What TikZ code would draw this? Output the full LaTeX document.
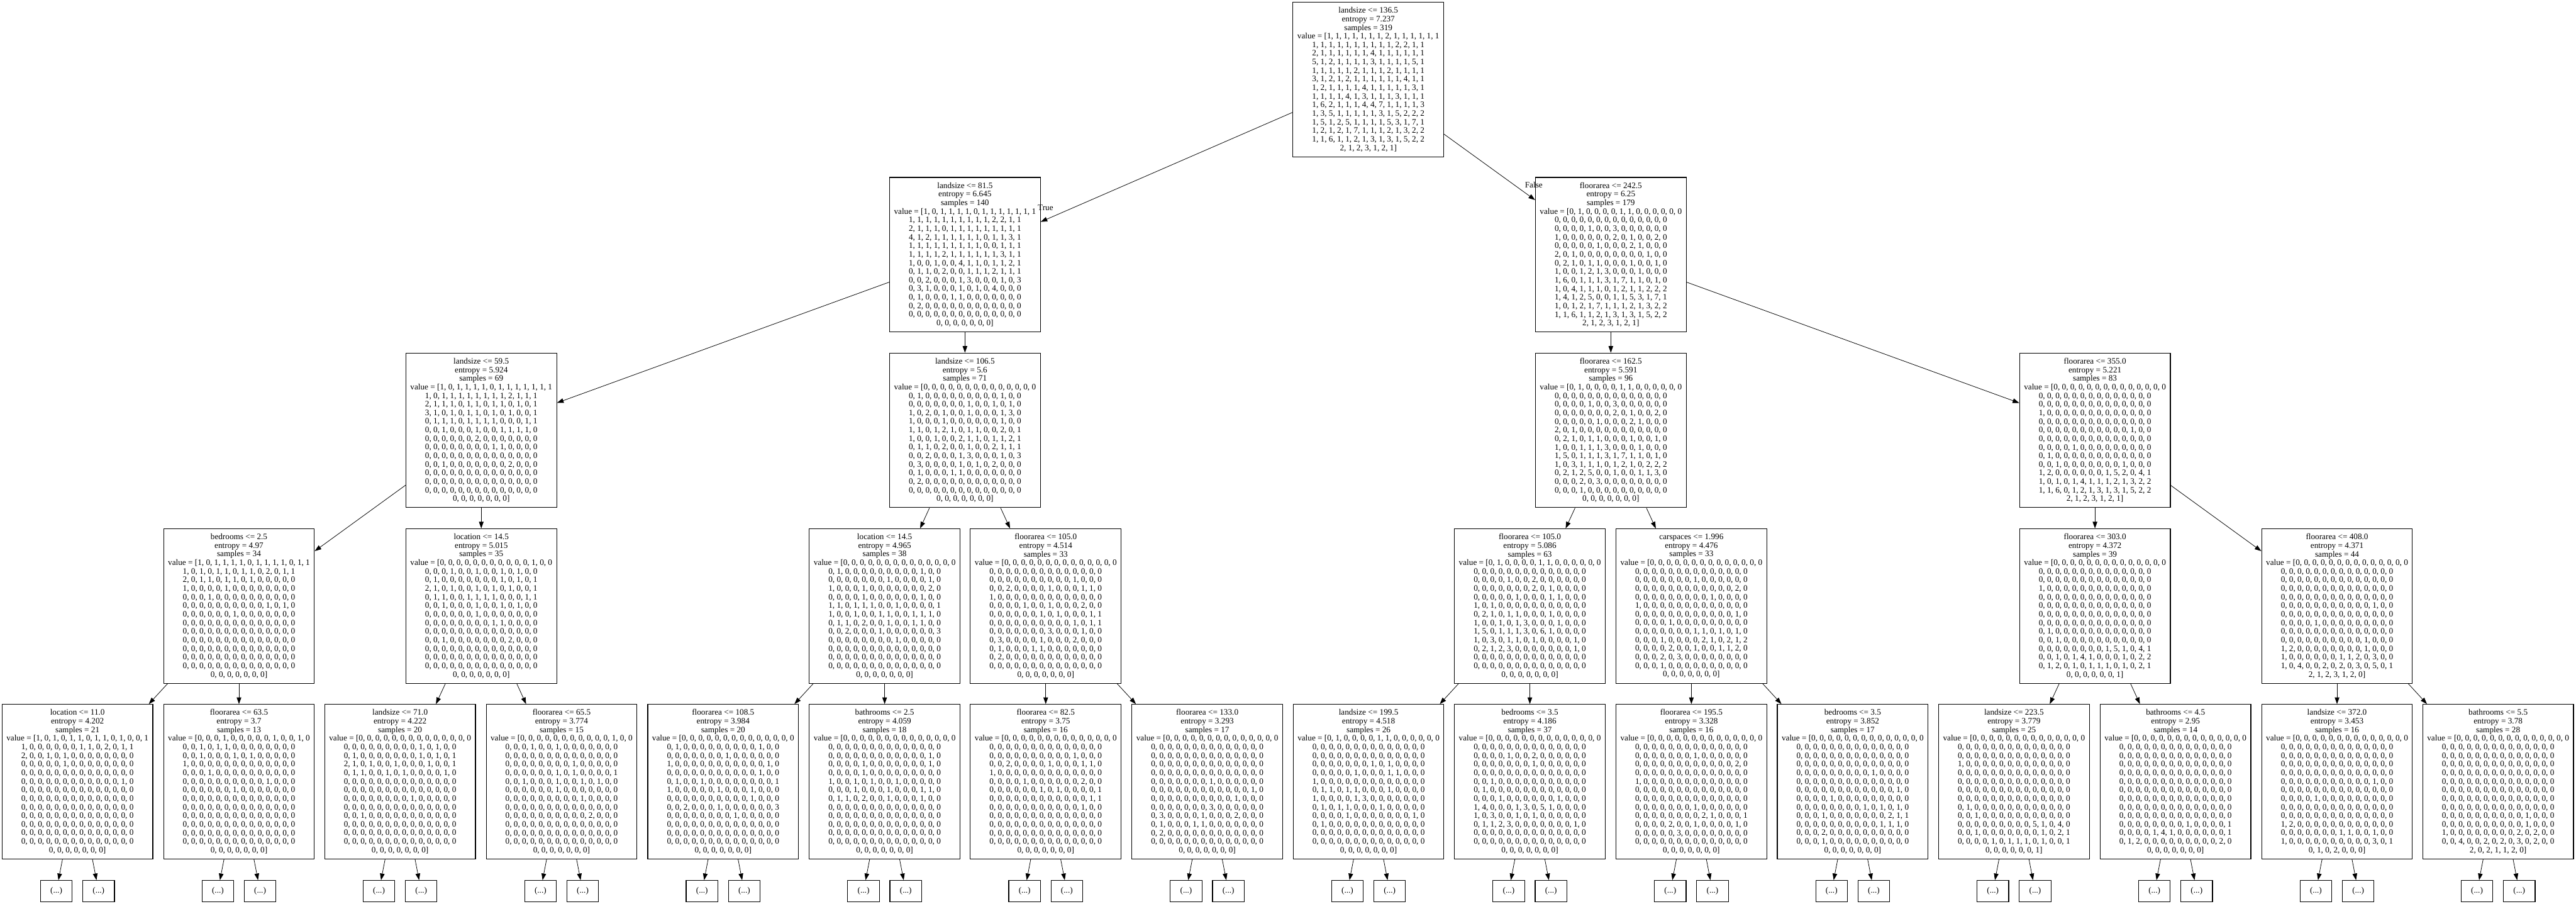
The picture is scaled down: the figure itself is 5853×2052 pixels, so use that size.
\documentclass[tikz,border=0pt]{standalone}
\usepackage{fontspec}
\setmainfont{Liberation Serif}
\usetikzlibrary{arrows.meta}

\newcommand{\nodefont}{\fontsize{3.78pt}{3.9pt}\selectfont}
\newcommand{\zerorow}{0, 0, 0, 0, 0, 0, 0, 0, 0, 0, 0, 0, 0, 0}
\newcommand{\zerohead}{value = [0, 0, 0, 0, 0, 0, 0, 0, 0, 0, 0, 0, 0, 0}
\newcommand{\zerotail}{0, 0, 0, 0, 0, 0, 0]}

\tikzset{
  treenode/.style={draw, rectangle, line width=0.32pt, minimum width=68.5pt, minimum height=70.2pt, inner sep=0pt, align=center, font=\nodefont},
  dotsbox/.style={draw, rectangle, line width=0.32pt, minimum width=14.4pt, minimum height=9.6pt, inner sep=0pt, font=\nodefont},
  edgearrow/.style={-{Triangle[length=3pt,width=2.1pt]}, line width=0.22pt},
  edgelabel/.style={anchor=base west, inner sep=0pt, font=\nodefont}
}

\begin{document}
\begin{tikzpicture}[x=0.2pt, y=-0.2pt]
\useasboundingbox (0,0) rectangle (5853,2052);

% root
\node[treenode] (r) at (3109,180.5) {landsize <= 136.5\\entropy = 7.237\\samples = 319\\value = [1, 1, 1, 1, 1, 1, 1, 2, 1, 1, 1, 1, 1, 1\\1, 1, 1, 1, 1, 1, 1, 1, 1, 1, 2, 2, 1, 1\\2, 1, 1, 1, 1, 1, 1, 4, 1, 1, 1, 1, 1, 1\\5, 1, 2, 1, 1, 1, 1, 3, 1, 1, 1, 1, 5, 1\\1, 1, 1, 1, 1, 2, 1, 1, 1, 2, 1, 1, 1, 1\\3, 1, 2, 1, 2, 1, 1, 1, 1, 1, 1, 4, 1, 1\\1, 2, 1, 1, 1, 1, 4, 1, 1, 1, 1, 1, 3, 1\\1, 1, 1, 1, 4, 1, 3, 1, 1, 1, 3, 1, 1, 1\\1, 6, 2, 1, 1, 1, 4, 4, 7, 1, 1, 1, 1, 3\\1, 3, 5, 1, 1, 1, 1, 1, 3, 1, 5, 2, 2, 2\\1, 5, 1, 2, 5, 1, 1, 1, 1, 5, 3, 1, 7, 1\\1, 2, 1, 2, 1, 7, 1, 1, 1, 2, 1, 3, 2, 2\\1, 1, 6, 1, 1, 2, 1, 3, 1, 3, 1, 5, 2, 2\\2, 1, 2, 3, 1, 2, 1]};

% depth 1
\node[treenode] (a) at (2192.5,578.5) {landsize <= 81.5\\entropy = 6.645\\samples = 140\\value = [1, 0, 1, 1, 1, 1, 0, 1, 1, 1, 1, 1, 1, 1\\1, 1, 1, 1, 1, 1, 1, 1, 1, 1, 2, 2, 1, 1\\2, 1, 1, 1, 0, 1, 1, 1, 1, 1, 1, 1, 1, 1\\4, 1, 2, 1, 1, 1, 1, 1, 1, 0, 1, 1, 3, 1\\1, 1, 1, 1, 1, 1, 1, 1, 1, 0, 0, 1, 1, 1\\1, 1, 1, 1, 2, 1, 1, 1, 1, 1, 1, 3, 1, 1\\1, 0, 0, 1, 0, 0, 4, 1, 1, 0, 1, 1, 2, 1\\0, 1, 1, 0, 2, 0, 0, 1, 1, 1, 2, 1, 1, 1\\0, 0, 2, 0, 0, 0, 1, 3, 0, 0, 0, 1, 0, 3\\0, 3, 1, 0, 0, 0, 1, 0, 1, 0, 4, 0, 0, 0\\0, 1, 0, 0, 0, 1, 1, 0, 0, 0, 0, 0, 0, 0\\0, 2, 0, 0, 0, 0, 0, 0, 0, 0, 0, 0, 0, 0\\\zerorow\\\zerotail};
\node[treenode] (b) at (3660,578.5) {floorarea <= 242.5\\entropy = 6.25\\samples = 179\\value = [0, 1, 0, 0, 0, 0, 1, 1, 0, 0, 0, 0, 0, 0\\\zerorow\\0, 0, 0, 0, 1, 0, 0, 3, 0, 0, 0, 0, 0, 0\\1, 0, 0, 0, 0, 0, 0, 2, 0, 1, 0, 0, 2, 0\\0, 0, 0, 0, 0, 1, 0, 0, 0, 2, 1, 0, 0, 0\\2, 0, 1, 0, 0, 0, 0, 0, 0, 0, 0, 1, 0, 0\\0, 2, 1, 0, 1, 1, 0, 0, 0, 1, 0, 0, 1, 0\\1, 0, 0, 1, 2, 1, 3, 0, 0, 0, 1, 0, 0, 0\\1, 6, 0, 1, 1, 1, 3, 1, 7, 1, 1, 0, 1, 0\\1, 0, 4, 1, 1, 1, 0, 1, 2, 1, 1, 2, 2, 2\\1, 4, 1, 2, 5, 0, 0, 1, 1, 5, 3, 1, 7, 1\\1, 0, 1, 2, 1, 7, 1, 1, 1, 2, 1, 3, 2, 2\\1, 1, 6, 1, 1, 2, 1, 3, 1, 3, 1, 5, 2, 2\\2, 1, 2, 3, 1, 2, 1]};

% depth 2
\node[treenode] (aa) at (1093.5,977.5) {landsize <= 59.5\\entropy = 5.924\\samples = 69\\value = [1, 0, 1, 1, 1, 1, 0, 1, 1, 1, 1, 1, 1, 1\\1, 0, 1, 1, 1, 1, 1, 1, 1, 1, 2, 1, 1, 1\\2, 1, 1, 1, 0, 1, 1, 0, 1, 1, 0, 1, 0, 1\\3, 1, 0, 1, 0, 1, 1, 0, 1, 0, 1, 0, 0, 1\\0, 1, 1, 1, 0, 1, 1, 1, 1, 0, 0, 0, 1, 1\\0, 0, 1, 0, 0, 0, 1, 0, 0, 1, 1, 1, 1, 0\\0, 0, 0, 0, 0, 0, 2, 0, 0, 0, 0, 0, 0, 0\\0, 0, 0, 0, 0, 0, 0, 0, 1, 1, 0, 0, 0, 0\\\zerorow\\0, 0, 1, 0, 0, 0, 0, 0, 0, 0, 2, 0, 0, 0\\\zerorow\\\zerorow\\\zerorow\\\zerotail};
\node[treenode] (ab) at (2192.5,977.5) {landsize <= 106.5\\entropy = 5.6\\samples = 71\\\zerohead\\0, 1, 0, 0, 0, 0, 0, 0, 0, 0, 0, 1, 0, 0\\0, 0, 0, 0, 0, 0, 0, 1, 0, 0, 1, 0, 1, 0\\1, 0, 2, 0, 1, 0, 0, 1, 0, 0, 0, 1, 3, 0\\1, 0, 0, 0, 1, 0, 0, 0, 0, 0, 0, 1, 0, 0\\1, 1, 0, 1, 2, 1, 0, 1, 1, 0, 0, 2, 0, 1\\1, 0, 0, 1, 0, 0, 2, 1, 1, 0, 1, 1, 2, 1\\0, 1, 1, 0, 2, 0, 0, 1, 0, 0, 2, 1, 1, 1\\0, 0, 2, 0, 0, 0, 1, 3, 0, 0, 0, 1, 0, 3\\0, 3, 0, 0, 0, 0, 1, 0, 1, 0, 2, 0, 0, 0\\0, 1, 0, 0, 0, 1, 1, 0, 0, 0, 0, 0, 0, 0\\0, 2, 0, 0, 0, 0, 0, 0, 0, 0, 0, 0, 0, 0\\\zerorow\\\zerotail};
\node[treenode] (ba) at (3660,977.5) {floorarea <= 162.5\\entropy = 5.591\\samples = 96\\value = [0, 1, 0, 0, 0, 0, 1, 1, 0, 0, 0, 0, 0, 0\\\zerorow\\0, 0, 0, 0, 1, 0, 0, 3, 0, 0, 0, 0, 0, 0\\0, 0, 0, 0, 0, 0, 0, 2, 0, 1, 0, 0, 2, 0\\0, 0, 0, 0, 0, 1, 0, 0, 0, 2, 1, 0, 0, 0\\2, 0, 1, 0, 0, 0, 0, 0, 0, 0, 0, 0, 0, 0\\0, 2, 1, 0, 1, 1, 0, 0, 0, 1, 0, 0, 1, 0\\1, 0, 0, 1, 1, 1, 3, 0, 0, 0, 1, 0, 0, 0\\1, 5, 0, 1, 1, 1, 3, 1, 7, 1, 1, 0, 1, 0\\1, 0, 3, 1, 1, 1, 0, 1, 2, 1, 0, 2, 2, 2\\0, 2, 1, 2, 5, 0, 0, 1, 0, 0, 1, 1, 3, 0\\0, 0, 0, 2, 0, 3, 0, 0, 0, 0, 0, 0, 0, 0\\0, 0, 0, 1, 0, 0, 0, 0, 0, 0, 0, 0, 0, 0\\\zerotail};
\node[treenode] (bb) at (4760,977.5) {floorarea <= 355.0\\entropy = 5.221\\samples = 83\\\zerohead\\\zerorow\\\zerorow\\1, 0, 0, 0, 0, 0, 0, 0, 0, 0, 0, 0, 0, 0\\\zerorow\\0, 0, 0, 0, 0, 0, 0, 0, 0, 0, 0, 1, 0, 0\\\zerorow\\0, 0, 0, 0, 1, 0, 0, 0, 0, 0, 0, 0, 0, 0\\0, 1, 0, 0, 0, 0, 0, 0, 0, 0, 0, 0, 0, 0\\0, 0, 1, 0, 0, 0, 0, 0, 0, 0, 1, 0, 0, 0\\1, 2, 0, 0, 0, 0, 0, 0, 1, 5, 2, 0, 4, 1\\1, 0, 1, 0, 1, 4, 1, 1, 1, 2, 1, 3, 2, 2\\1, 1, 6, 0, 1, 2, 1, 3, 1, 3, 1, 5, 2, 2\\2, 1, 2, 3, 1, 2, 1]};

% depth 3
\node[treenode] (aaa) at (543,1376.5) {bedrooms <= 2.5\\entropy = 4.97\\samples = 34\\value = [1, 0, 1, 1, 1, 1, 0, 1, 1, 1, 1, 0, 1, 1\\1, 0, 1, 0, 1, 1, 0, 1, 1, 0, 2, 0, 1, 1\\2, 0, 1, 1, 0, 1, 1, 0, 1, 0, 0, 0, 0, 0\\1, 0, 0, 0, 0, 1, 0, 0, 0, 0, 0, 0, 0, 0\\0, 0, 0, 1, 0, 0, 0, 0, 0, 0, 0, 0, 0, 0\\0, 0, 0, 0, 0, 0, 0, 0, 0, 0, 1, 0, 1, 0\\0, 0, 0, 0, 0, 0, 1, 0, 0, 0, 0, 0, 0, 0\\\zerorow\\\zerorow\\\zerorow\\\zerorow\\\zerorow\\\zerorow\\\zerotail};
\node[treenode] (aab) at (1093.5,1376.5) {location <= 14.5\\entropy = 5.015\\samples = 35\\value = [0, 0, 0, 0, 0, 0, 0, 0, 0, 0, 0, 1, 0, 0\\0, 0, 0, 1, 0, 0, 1, 0, 0, 1, 0, 1, 0, 0\\0, 1, 0, 0, 0, 0, 0, 0, 0, 1, 0, 1, 0, 1\\2, 1, 0, 1, 0, 0, 1, 0, 1, 0, 1, 0, 0, 1\\0, 1, 1, 0, 0, 1, 1, 1, 1, 0, 0, 0, 1, 1\\0, 0, 1, 0, 0, 0, 1, 0, 0, 1, 0, 1, 0, 0\\0, 0, 0, 0, 0, 0, 1, 0, 0, 0, 0, 0, 0, 0\\0, 0, 0, 0, 0, 0, 0, 0, 1, 1, 0, 0, 0, 0\\\zerorow\\0, 0, 1, 0, 0, 0, 0, 0, 0, 0, 2, 0, 0, 0\\\zerorow\\\zerorow\\\zerorow\\\zerotail};
\node[treenode] (aba) at (2010,1376.5) {location <= 14.5\\entropy = 4.965\\samples = 38\\\zerohead\\0, 1, 0, 0, 0, 0, 0, 0, 0, 0, 0, 1, 0, 0\\0, 0, 0, 0, 0, 0, 0, 1, 0, 0, 0, 0, 1, 0\\1, 0, 0, 0, 1, 0, 0, 0, 0, 0, 0, 0, 2, 0\\0, 0, 0, 0, 1, 0, 0, 0, 0, 0, 0, 1, 0, 0\\1, 1, 0, 1, 1, 1, 0, 0, 1, 0, 0, 0, 0, 1\\1, 0, 0, 1, 0, 0, 1, 1, 0, 0, 1, 1, 1, 0\\0, 1, 1, 0, 2, 0, 0, 1, 0, 0, 1, 1, 0, 0\\0, 0, 2, 0, 0, 0, 1, 0, 0, 0, 0, 0, 0, 3\\0, 0, 0, 0, 0, 0, 0, 0, 1, 0, 0, 0, 0, 0\\\zerorow\\\zerorow\\\zerorow\\\zerotail};
\node[treenode] (abb) at (2376,1376.5) {floorarea <= 105.0\\entropy = 4.514\\samples = 33\\\zerohead\\\zerorow\\0, 0, 0, 0, 0, 0, 0, 0, 0, 0, 1, 0, 0, 0\\0, 0, 2, 0, 0, 0, 0, 1, 0, 0, 0, 1, 1, 0\\1, 0, 0, 0, 0, 0, 0, 0, 0, 0, 0, 0, 0, 0\\0, 0, 0, 0, 1, 0, 0, 1, 0, 0, 0, 2, 0, 0\\0, 0, 0, 0, 0, 0, 1, 0, 1, 0, 0, 0, 1, 1\\0, 0, 0, 0, 0, 0, 0, 0, 0, 0, 1, 0, 1, 1\\0, 0, 0, 0, 0, 0, 0, 3, 0, 0, 0, 1, 0, 0\\0, 3, 0, 0, 0, 0, 1, 0, 0, 0, 2, 0, 0, 0\\0, 1, 0, 0, 0, 1, 1, 0, 0, 0, 0, 0, 0, 0\\0, 2, 0, 0, 0, 0, 0, 0, 0, 0, 0, 0, 0, 0\\\zerorow\\\zerotail};
\node[treenode] (baa) at (3476,1376.5) {floorarea <= 105.0\\entropy = 5.086\\samples = 63\\value = [0, 1, 0, 0, 0, 0, 1, 1, 0, 0, 0, 0, 0, 0\\\zerorow\\0, 0, 0, 0, 1, 0, 0, 2, 0, 0, 0, 0, 0, 0\\0, 0, 0, 0, 0, 0, 0, 2, 0, 1, 0, 0, 0, 0\\0, 0, 0, 0, 0, 1, 0, 0, 0, 1, 1, 0, 0, 0\\1, 0, 1, 0, 0, 0, 0, 0, 0, 0, 0, 0, 0, 0\\0, 2, 1, 0, 1, 1, 0, 0, 0, 1, 0, 0, 0, 0\\1, 0, 0, 1, 0, 1, 3, 0, 0, 0, 1, 0, 0, 0\\1, 5, 0, 1, 1, 1, 3, 0, 6, 1, 0, 0, 0, 0\\1, 0, 3, 0, 1, 1, 0, 1, 0, 0, 0, 0, 1, 0\\0, 2, 1, 2, 3, 0, 0, 0, 0, 0, 0, 0, 1, 0\\\zerorow\\\zerorow\\\zerotail};
\node[treenode] (bab) at (3843,1376.5) {carspaces <= 1.996\\entropy = 4.476\\samples = 33\\\zerohead\\\zerorow\\0, 0, 0, 0, 0, 0, 0, 1, 0, 0, 0, 0, 0, 0\\0, 0, 0, 0, 0, 0, 0, 0, 0, 0, 0, 0, 2, 0\\0, 0, 0, 0, 0, 0, 0, 0, 0, 1, 0, 0, 0, 0\\1, 0, 0, 0, 0, 0, 0, 0, 0, 0, 0, 0, 0, 0\\0, 0, 0, 0, 0, 0, 0, 0, 0, 0, 0, 0, 1, 0\\0, 0, 0, 0, 1, 0, 0, 0, 0, 0, 0, 0, 0, 0\\0, 0, 0, 0, 0, 0, 0, 1, 1, 0, 1, 0, 1, 0\\0, 0, 0, 1, 0, 0, 0, 0, 2, 1, 0, 2, 1, 2\\0, 0, 0, 0, 2, 0, 0, 1, 0, 0, 1, 1, 2, 0\\0, 0, 0, 2, 0, 3, 0, 0, 0, 0, 0, 0, 0, 0\\0, 0, 0, 1, 0, 0, 0, 0, 0, 0, 0, 0, 0, 0\\\zerotail};
\node[treenode] (bba) at (4760,1376.5) {floorarea <= 303.0\\entropy = 4.372\\samples = 39\\\zerohead\\\zerorow\\\zerorow\\1, 0, 0, 0, 0, 0, 0, 0, 0, 0, 0, 0, 0, 0\\\zerorow\\\zerorow\\\zerorow\\\zerorow\\0, 1, 0, 0, 0, 0, 0, 0, 0, 0, 0, 0, 0, 0\\0, 0, 1, 0, 0, 0, 0, 0, 0, 0, 0, 0, 0, 0\\0, 0, 0, 0, 0, 0, 0, 0, 1, 5, 1, 0, 4, 1\\0, 0, 1, 0, 1, 4, 1, 0, 0, 0, 1, 0, 2, 2\\0, 1, 2, 0, 1, 0, 1, 1, 1, 0, 1, 0, 2, 1\\0, 0, 0, 0, 0, 0, 1]};
\node[treenode] (bbb) at (5310,1376.5) {floorarea <= 408.0\\entropy = 4.371\\samples = 44\\\zerohead\\\zerorow\\\zerorow\\\zerorow\\\zerorow\\0, 0, 0, 0, 0, 0, 0, 0, 0, 0, 0, 1, 0, 0\\\zerorow\\0, 0, 0, 0, 1, 0, 0, 0, 0, 0, 0, 0, 0, 0\\\zerorow\\0, 0, 0, 0, 0, 0, 0, 0, 0, 0, 1, 0, 0, 0\\1, 2, 0, 0, 0, 0, 0, 0, 0, 0, 1, 0, 0, 0\\1, 0, 0, 0, 0, 0, 0, 1, 1, 2, 0, 3, 0, 0\\1, 0, 4, 0, 0, 2, 0, 2, 0, 3, 0, 5, 0, 1\\2, 1, 2, 3, 1, 2, 0]};

% depth 4
\node[treenode] (aaaa) at (176,1775.5) {location <= 11.0\\entropy = 4.202\\samples = 21\\value = [1, 0, 1, 0, 1, 1, 0, 1, 1, 0, 1, 0, 0, 1\\1, 0, 0, 0, 0, 0, 0, 1, 1, 0, 2, 0, 1, 1\\2, 0, 0, 1, 0, 1, 0, 0, 0, 0, 0, 0, 0, 0\\0, 0, 0, 0, 0, 1, 0, 0, 0, 0, 0, 0, 0, 0\\\zerorow\\0, 0, 0, 0, 0, 0, 0, 0, 0, 0, 0, 0, 1, 0\\\zerorow\\\zerorow\\\zerorow\\\zerorow\\\zerorow\\\zerorow\\\zerorow\\\zerotail};
\node[treenode] (aaab) at (543,1775.5) {floorarea <= 63.5\\entropy = 3.7\\samples = 13\\value = [0, 0, 0, 1, 0, 0, 0, 0, 0, 1, 0, 0, 1, 0\\0, 0, 1, 0, 1, 1, 0, 0, 0, 0, 0, 0, 0, 0\\0, 0, 1, 0, 0, 0, 1, 0, 1, 0, 0, 0, 0, 0\\1, 0, 0, 0, 0, 0, 0, 0, 0, 0, 0, 0, 0, 0\\0, 0, 0, 1, 0, 0, 0, 0, 0, 0, 0, 0, 0, 0\\0, 0, 0, 0, 0, 0, 0, 0, 0, 0, 1, 0, 0, 0\\0, 0, 0, 0, 0, 0, 1, 0, 0, 0, 0, 0, 0, 0\\\zerorow\\\zerorow\\\zerorow\\\zerorow\\\zerorow\\\zerorow\\\zerotail};
\node[treenode] (aaba) at (909,1775.5) {landsize <= 71.0\\entropy = 4.222\\samples = 20\\\zerohead\\0, 0, 0, 0, 0, 0, 0, 0, 0, 1, 0, 1, 0, 0\\0, 1, 0, 0, 0, 0, 0, 0, 0, 1, 0, 1, 0, 1\\2, 1, 0, 1, 0, 0, 1, 0, 0, 0, 1, 0, 0, 1\\0, 1, 1, 0, 0, 1, 0, 1, 0, 0, 0, 0, 1, 0\\\zerorow\\\zerorow\\0, 0, 0, 0, 0, 0, 0, 0, 1, 0, 0, 0, 0, 0\\\zerorow\\0, 0, 1, 0, 0, 0, 0, 0, 0, 0, 0, 0, 0, 0\\\zerorow\\\zerorow\\\zerorow\\\zerotail};
\node[treenode] (aabb) at (1276,1775.5) {floorarea <= 65.5\\entropy = 3.774\\samples = 15\\value = [0, 0, 0, 0, 0, 0, 0, 0, 0, 0, 0, 1, 0, 0\\0, 0, 0, 1, 0, 0, 1, 0, 0, 0, 0, 0, 0, 0\\\zerorow\\0, 0, 0, 0, 0, 0, 0, 0, 1, 0, 0, 0, 0, 0\\0, 0, 0, 0, 0, 0, 1, 0, 1, 0, 0, 0, 0, 1\\0, 0, 1, 0, 0, 0, 1, 0, 0, 1, 0, 1, 0, 0\\0, 0, 0, 0, 0, 0, 1, 0, 0, 0, 0, 0, 0, 0\\0, 0, 0, 0, 0, 0, 0, 0, 0, 1, 0, 0, 0, 0\\\zerorow\\0, 0, 0, 0, 0, 0, 0, 0, 0, 0, 2, 0, 0, 0\\\zerorow\\\zerorow\\\zerorow\\\zerotail};
\node[treenode] (abaa) at (1643,1775.5) {floorarea <= 108.5\\entropy = 3.984\\samples = 20\\\zerohead\\0, 1, 0, 0, 0, 0, 0, 0, 0, 0, 0, 1, 0, 0\\0, 0, 0, 0, 0, 0, 0, 1, 0, 0, 0, 0, 0, 0\\1, 0, 0, 0, 0, 0, 0, 0, 0, 0, 0, 0, 1, 0\\0, 0, 0, 0, 0, 0, 0, 0, 0, 0, 0, 1, 0, 0\\0, 1, 0, 0, 1, 0, 0, 0, 0, 0, 0, 0, 0, 1\\1, 0, 0, 0, 0, 0, 1, 0, 0, 0, 1, 0, 0, 0\\0, 0, 0, 0, 0, 0, 0, 0, 0, 0, 1, 0, 0, 0\\0, 0, 2, 0, 0, 0, 1, 0, 0, 0, 0, 0, 0, 3\\0, 0, 0, 0, 0, 0, 0, 0, 1, 0, 0, 0, 0, 0\\\zerorow\\\zerorow\\\zerorow\\\zerotail};
\node[treenode] (abab) at (2010,1775.5) {bathrooms <= 2.5\\entropy = 4.059\\samples = 18\\\zerohead\\\zerorow\\0, 0, 0, 0, 0, 0, 0, 0, 0, 0, 0, 0, 1, 0\\0, 0, 0, 0, 1, 0, 0, 0, 0, 0, 0, 0, 1, 0\\0, 0, 0, 0, 1, 0, 0, 0, 0, 0, 0, 0, 0, 0\\1, 0, 0, 1, 0, 1, 0, 0, 1, 0, 0, 0, 0, 0\\0, 0, 0, 1, 0, 0, 0, 1, 0, 0, 0, 1, 1, 0\\0, 1, 1, 0, 2, 0, 0, 1, 0, 0, 0, 1, 0, 0\\\zerorow\\\zerorow\\\zerorow\\\zerorow\\\zerorow\\\zerotail};
\node[treenode] (abba) at (2376,1775.5) {floorarea <= 82.5\\entropy = 3.75\\samples = 16\\\zerohead\\\zerorow\\0, 0, 0, 0, 0, 0, 0, 0, 0, 0, 1, 0, 0, 0\\0, 0, 2, 0, 0, 0, 0, 1, 0, 0, 0, 1, 1, 0\\1, 0, 0, 0, 0, 0, 0, 0, 0, 0, 0, 0, 0, 0\\0, 0, 0, 0, 1, 0, 0, 0, 0, 0, 0, 2, 0, 0\\0, 0, 0, 0, 0, 0, 1, 0, 1, 0, 0, 0, 0, 1\\0, 0, 0, 0, 0, 0, 0, 0, 0, 0, 0, 0, 1, 1\\0, 0, 0, 0, 0, 0, 0, 0, 0, 0, 0, 1, 0, 0\\\zerorow\\\zerorow\\\zerorow\\\zerorow\\\zerotail};
\node[treenode] (abbb) at (2743,1775.5) {floorarea <= 133.0\\entropy = 3.293\\samples = 17\\\zerohead\\\zerorow\\\zerorow\\\zerorow\\\zerorow\\0, 0, 0, 0, 0, 0, 0, 1, 0, 0, 0, 0, 0, 0\\0, 0, 0, 0, 0, 0, 0, 0, 0, 0, 0, 0, 1, 0\\0, 0, 0, 0, 0, 0, 0, 0, 0, 0, 1, 0, 0, 0\\0, 0, 0, 0, 0, 0, 0, 3, 0, 0, 0, 0, 0, 0\\0, 3, 0, 0, 0, 0, 1, 0, 0, 0, 2, 0, 0, 0\\0, 1, 0, 0, 0, 1, 1, 0, 0, 0, 0, 0, 0, 0\\0, 2, 0, 0, 0, 0, 0, 0, 0, 0, 0, 0, 0, 0\\\zerorow\\\zerotail};
\node[treenode] (baaa) at (3109.5,1775.5) {landsize <= 199.5\\entropy = 4.518\\samples = 26\\value = [0, 1, 0, 0, 0, 0, 1, 1, 0, 0, 0, 0, 0, 0\\\zerorow\\\zerorow\\0, 0, 0, 0, 0, 0, 0, 1, 0, 1, 0, 0, 0, 0\\0, 0, 0, 0, 0, 1, 0, 0, 0, 1, 1, 0, 0, 0\\1, 0, 0, 0, 0, 0, 0, 0, 0, 0, 0, 0, 0, 0\\0, 1, 1, 0, 1, 1, 0, 0, 0, 1, 0, 0, 0, 0\\1, 0, 0, 0, 0, 1, 3, 0, 0, 0, 0, 0, 0, 0\\0, 1, 0, 1, 1, 0, 0, 0, 1, 0, 0, 0, 0, 0\\0, 0, 0, 0, 1, 0, 0, 0, 0, 0, 0, 0, 1, 0\\0, 1, 0, 0, 0, 0, 0, 0, 0, 0, 0, 0, 0, 0\\\zerorow\\\zerorow\\\zerotail};
\node[treenode] (baab) at (3476,1775.5) {bedrooms <= 3.5\\entropy = 4.186\\samples = 37\\\zerohead\\\zerorow\\0, 0, 0, 0, 1, 0, 0, 2, 0, 0, 0, 0, 0, 0\\0, 0, 0, 0, 0, 0, 0, 1, 0, 0, 0, 0, 0, 0\\\zerorow\\0, 0, 1, 0, 0, 0, 0, 0, 0, 0, 0, 0, 0, 0\\0, 1, 0, 0, 0, 0, 0, 0, 0, 0, 0, 0, 0, 0\\0, 0, 0, 1, 0, 0, 0, 0, 0, 0, 1, 0, 0, 0\\1, 4, 0, 0, 0, 1, 3, 0, 5, 1, 0, 0, 0, 0\\1, 0, 3, 0, 0, 1, 0, 1, 0, 0, 0, 0, 0, 0\\0, 1, 1, 2, 3, 0, 0, 0, 0, 0, 0, 0, 1, 0\\\zerorow\\\zerorow\\\zerotail};
\node[treenode] (baba) at (3843,1775.5) {floorarea <= 195.5\\entropy = 3.328\\samples = 16\\\zerohead\\\zerorow\\0, 0, 0, 0, 0, 0, 0, 1, 0, 0, 0, 0, 0, 0\\0, 0, 0, 0, 0, 0, 0, 0, 0, 0, 0, 0, 2, 0\\\zerorow\\1, 0, 0, 0, 0, 0, 0, 0, 0, 0, 0, 0, 0, 0\\\zerorow\\\zerorow\\0, 0, 0, 0, 0, 0, 0, 1, 0, 0, 0, 0, 0, 0\\0, 0, 0, 0, 0, 0, 0, 0, 2, 1, 0, 0, 0, 1\\0, 0, 0, 0, 2, 0, 0, 1, 0, 0, 0, 0, 1, 0\\0, 0, 0, 0, 0, 3, 0, 0, 0, 0, 0, 0, 0, 0\\\zerorow\\\zerotail};
\node[treenode] (babb) at (4209.5,1775.5) {bedrooms <= 3.5\\entropy = 3.852\\samples = 17\\\zerohead\\\zerorow\\\zerorow\\\zerorow\\0, 0, 0, 0, 0, 0, 0, 0, 0, 1, 0, 0, 0, 0\\\zerorow\\0, 0, 0, 0, 0, 0, 0, 0, 0, 0, 0, 0, 1, 0\\0, 0, 0, 0, 1, 0, 0, 0, 0, 0, 0, 0, 0, 0\\0, 0, 0, 0, 0, 0, 0, 0, 1, 0, 1, 0, 1, 0\\0, 0, 0, 1, 0, 0, 0, 0, 0, 0, 0, 2, 1, 1\\0, 0, 0, 0, 0, 0, 0, 0, 0, 0, 1, 1, 1, 0\\0, 0, 0, 2, 0, 0, 0, 0, 0, 0, 0, 0, 0, 0\\0, 0, 0, 1, 0, 0, 0, 0, 0, 0, 0, 0, 0, 0\\\zerotail};
\node[treenode] (bbaa) at (4576,1775.5) {landsize <= 223.5\\entropy = 3.779\\samples = 25\\\zerohead\\\zerorow\\\zerorow\\1, 0, 0, 0, 0, 0, 0, 0, 0, 0, 0, 0, 0, 0\\\zerorow\\\zerorow\\\zerorow\\\zerorow\\0, 1, 0, 0, 0, 0, 0, 0, 0, 0, 0, 0, 0, 0\\0, 0, 1, 0, 0, 0, 0, 0, 0, 0, 0, 0, 0, 0\\0, 0, 0, 0, 0, 0, 0, 0, 0, 5, 1, 0, 4, 0\\0, 0, 1, 0, 0, 0, 0, 0, 0, 0, 1, 0, 2, 1\\0, 0, 0, 0, 1, 0, 1, 1, 1, 0, 1, 0, 0, 1\\0, 0, 0, 0, 0, 0, 1]};
\node[treenode] (bbab) at (4943,1775.5) {bathrooms <= 4.5\\entropy = 2.95\\samples = 14\\\zerohead\\\zerorow\\\zerorow\\\zerorow\\\zerorow\\\zerorow\\\zerorow\\\zerorow\\\zerorow\\\zerorow\\0, 0, 0, 0, 0, 0, 0, 0, 1, 0, 0, 0, 0, 1\\0, 0, 0, 0, 1, 4, 1, 0, 0, 0, 0, 0, 0, 1\\0, 1, 2, 0, 0, 0, 0, 0, 0, 0, 0, 0, 2, 0\\\zerotail};
\node[treenode] (bbba) at (5310,1775.5) {landsize <= 372.0\\entropy = 3.453\\samples = 16\\\zerohead\\\zerorow\\\zerorow\\\zerorow\\\zerorow\\0, 0, 0, 0, 0, 0, 0, 0, 0, 0, 0, 1, 0, 0\\\zerorow\\0, 0, 0, 0, 1, 0, 0, 0, 0, 0, 0, 0, 0, 0\\\zerorow\\\zerorow\\1, 2, 0, 0, 0, 0, 0, 0, 0, 0, 0, 0, 0, 0\\0, 0, 0, 0, 0, 0, 0, 1, 1, 0, 0, 1, 0, 0\\1, 0, 0, 0, 0, 0, 0, 0, 0, 0, 0, 3, 0, 1\\0, 1, 0, 2, 0, 0, 0]};
\node[treenode] (bbbb) at (5676,1775.5) {bathrooms <= 5.5\\entropy = 3.78\\samples = 28\\\zerohead\\\zerorow\\\zerorow\\\zerorow\\\zerorow\\\zerorow\\\zerorow\\\zerorow\\\zerorow\\0, 0, 0, 0, 0, 0, 0, 0, 0, 0, 1, 0, 0, 0\\0, 0, 0, 0, 0, 0, 0, 0, 0, 0, 1, 0, 0, 0\\1, 0, 0, 0, 0, 0, 0, 0, 0, 2, 0, 2, 0, 0\\0, 0, 4, 0, 0, 2, 0, 2, 0, 3, 0, 2, 0, 0\\2, 0, 2, 1, 1, 2, 0]};

% branches
\foreach \p/\c in {r/a, r/b, a/aa, a/ab, b/ba, b/bb,
  aa/aaa, aa/aab, ab/aba, ab/abb, ba/baa, ba/bab, bb/bba, bb/bbb,
  aaa/aaaa, aaa/aaab, aab/aaba, aab/aabb, aba/abaa, aba/abab, abb/abba, abb/abbb,
  baa/baaa, baa/baab, bab/baba, bab/babb, bba/bbaa, bba/bbab, bbb/bbba, bbb/bbbb}
  \draw[edgearrow] (\p) -- (\c);

\node[edgelabel] (truelabel) at (2357,478) {True};
\node[edgelabel] (falselabel) at (3464,426) {False};

% truncated subtrees
\foreach \n/\x in {aaaa/176, aaab/543, aaba/909, aabb/1276, abaa/1643, abab/2010, abba/2376, abbb/2743,
  baaa/3109.5, baab/3476, baba/3843, babb/4209.5, bbaa/4576, bbab/4943, bbba/5310, bbbb/5676} {
  \node[dotsbox] (\n l) at (\x-48,2024) {(...)};
  \node[dotsbox] (\n r) at (\x+48,2024) {(...)};
  \draw[edgearrow] (\n) -- (\n l);
  \draw[edgearrow] (\n) -- (\n r);
}
\end{tikzpicture}
\end{document}
